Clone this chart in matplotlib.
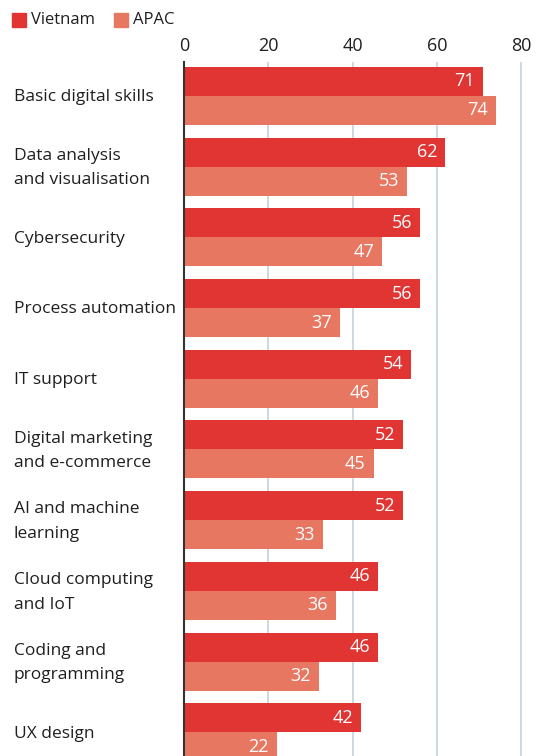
import matplotlib
matplotlib.use("Agg")
import matplotlib.pyplot as plt
from matplotlib.patches import Rectangle

categories = ["Basic digital skills", "Data analysis\nand visualisation", "Cybersecurity",
              "Process automation", "IT support", "Digital marketing\nand e-commerce",
              "AI and machine\nlearning", "Cloud computing\nand IoT", "Coding and\nprogramming",
              "UX design"]
vietnam = [71, 62, 56, 56, 54, 52, 52, 46, 46, 42]
apac = [74, 53, 47, 37, 46, 45, 33, 36, 32, 22]
series_names = ["Vietnam", "APAC"]
xticks = [0, 20, 40, 60, 80]

c_vn = "#E03533"
c_ap = "#E87762"
plt.rcParams['font.family'] = ['Open Sans', 'DejaVu Sans']

W, H = 551, 756
fig = plt.figure(figsize=(W/100, H/100), dpi=100)
ax = fig.add_axes([184/W, 0, 1 - 184/W, 1 - 62/H])

bh = 0.41
fs = 12.5
for i, (v, a) in enumerate(zip(vietnam, apac)):
    ax.barh(i - bh/2, v, height=bh, color=c_vn, zorder=3)
    ax.barh(i + bh/2, a, height=bh, color=c_ap, zorder=3)
    ax.text(v - 1.9, i - bh/2, str(v), color="white", ha="right", va="center",
            fontsize=13, zorder=4)
    ax.text(a - 1.9, i + bh/2, str(a), color="white", ha="right", va="center",
            fontsize=13, zorder=4)
    ax.text(-40.4, i + 0.02, categories[i], ha="left", va="center", fontsize=fs,
            color="#1f1f1f", linespacing=1.7)

ax.set_xlim(0, (W - 184) / 4.2125)
ax.set_ylim(9.335, -0.48)
ax.set_xticks(xticks)
ax.xaxis.tick_top()
ax.tick_params(axis='x', length=0, labelsize=13, labelcolor="#1f1f1f", pad=5)
ax.set_yticks([])
for x in xticks[1:]:
    ax.axvline(x, color="#c5d2dc", lw=1.2, zorder=1)
for s in ["top", "right", "bottom"]:
    ax.spines[s].set_visible(False)
ax.spines["left"].set_color("#333333")
ax.spines["left"].set_linewidth(1.5)
ax.spines["left"].set_zorder(5)

# legend
for x0, col, name in [(12, c_vn, series_names[0]), (114, c_ap, series_names[1])]:
    fig.patches.append(Rectangle((x0/W, 1 - 27/H), 14/W, 14/H, color=col,
                                 transform=fig.transFigure))
    fig.text((x0 + 19)/W, 1 - 20/H, name, ha="left", va="center", fontsize=12,
             color="#1f1f1f")

fig.savefig("out.png", dpi=100)
